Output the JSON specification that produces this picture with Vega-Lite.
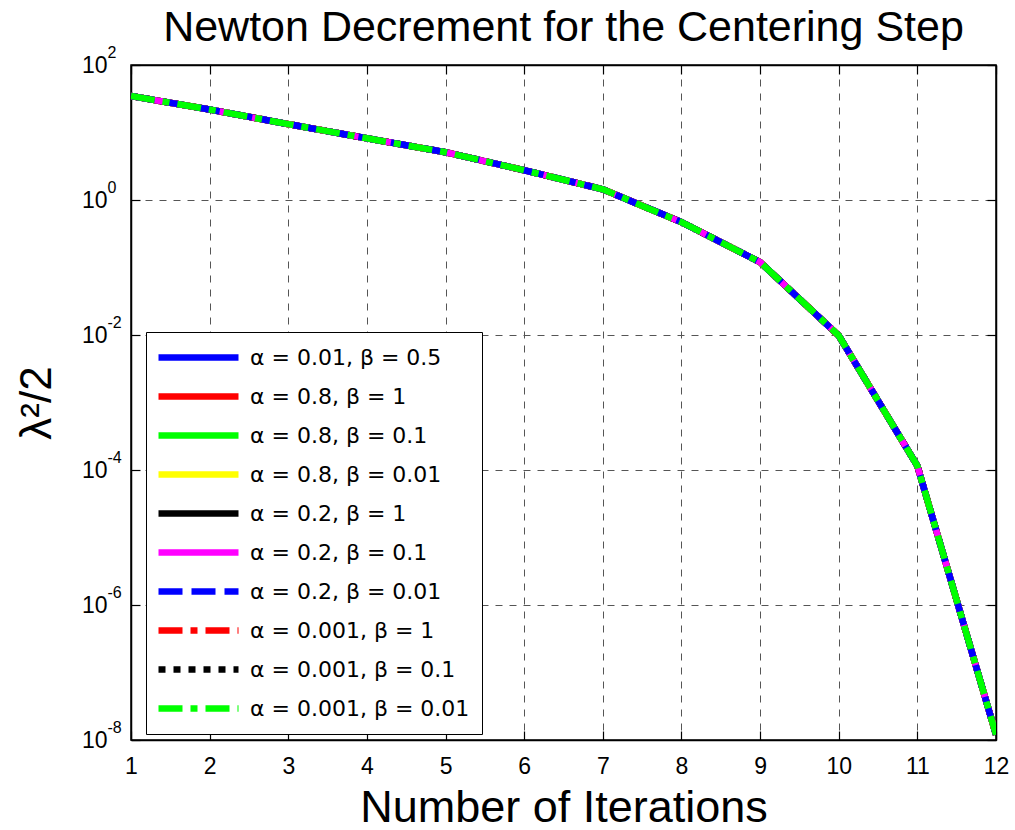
{
  "$schema": "https://vega.github.io/schema/vega-lite/v6.json",
  "width": 865,
  "height": 675,
  "autosize": {"type": "none"},
  "padding": {"left": 131, "top": 65, "right": 19, "bottom": 90},
  "background": "white",
  "title": {"text": "Newton Decrement for the Centering Step", "fontSize": 43, "font": "Liberation Sans", "fontWeight": "normal", "anchor": "middle", "offset": -6, "color": "black"},
  "config": {"view": {"stroke": "black", "strokeWidth": 1.5}},
  "datasets": {
    "d": [
      {"s": "α = 0.01, β = 0.5", "k": 1, "v": 34.7}, {"s": "α = 0.01, β = 0.5", "k": 2, "v": 21.9}, {"s": "α = 0.01, β = 0.5", "k": 3, "v": 13.3}, {"s": "α = 0.01, β = 0.5", "k": 4, "v": 8.2}, {"s": "α = 0.01, β = 0.5", "k": 5, "v": 5.1}, {"s": "α = 0.01, β = 0.5", "k": 6, "v": 2.76}, {"s": "α = 0.01, β = 0.5", "k": 7, "v": 1.44}, {"s": "α = 0.01, β = 0.5", "k": 8, "v": 0.47}, {"s": "α = 0.01, β = 0.5", "k": 9, "v": 0.12}, {"s": "α = 0.01, β = 0.5", "k": 10, "v": 0.0098}, {"s": "α = 0.01, β = 0.5", "k": 11, "v": 0.000115}, {"s": "α = 0.01, β = 0.5", "k": 12, "v": 1.2e-8},
      {"s": "α = 0.8, β = 1", "k": 1, "v": 34.7}, {"s": "α = 0.8, β = 1", "k": 2, "v": 21.9}, {"s": "α = 0.8, β = 1", "k": 3, "v": 13.3}, {"s": "α = 0.8, β = 1", "k": 4, "v": 8.2}, {"s": "α = 0.8, β = 1", "k": 5, "v": 5.1}, {"s": "α = 0.8, β = 1", "k": 6, "v": 2.76}, {"s": "α = 0.8, β = 1", "k": 7, "v": 1.44}, {"s": "α = 0.8, β = 1", "k": 8, "v": 0.47}, {"s": "α = 0.8, β = 1", "k": 9, "v": 0.12}, {"s": "α = 0.8, β = 1", "k": 10, "v": 0.0098}, {"s": "α = 0.8, β = 1", "k": 11, "v": 0.000115}, {"s": "α = 0.8, β = 1", "k": 12, "v": 1.2e-8},
      {"s": "α = 0.8, β = 0.1", "k": 1, "v": 34.7}, {"s": "α = 0.8, β = 0.1", "k": 2, "v": 21.9}, {"s": "α = 0.8, β = 0.1", "k": 3, "v": 13.3}, {"s": "α = 0.8, β = 0.1", "k": 4, "v": 8.2}, {"s": "α = 0.8, β = 0.1", "k": 5, "v": 5.1}, {"s": "α = 0.8, β = 0.1", "k": 6, "v": 2.76}, {"s": "α = 0.8, β = 0.1", "k": 7, "v": 1.44}, {"s": "α = 0.8, β = 0.1", "k": 8, "v": 0.47}, {"s": "α = 0.8, β = 0.1", "k": 9, "v": 0.12}, {"s": "α = 0.8, β = 0.1", "k": 10, "v": 0.0098}, {"s": "α = 0.8, β = 0.1", "k": 11, "v": 0.000115}, {"s": "α = 0.8, β = 0.1", "k": 12, "v": 1.2e-8},
      {"s": "α = 0.8, β = 0.01", "k": 1, "v": 34.7}, {"s": "α = 0.8, β = 0.01", "k": 2, "v": 21.9}, {"s": "α = 0.8, β = 0.01", "k": 3, "v": 13.3}, {"s": "α = 0.8, β = 0.01", "k": 4, "v": 8.2}, {"s": "α = 0.8, β = 0.01", "k": 5, "v": 5.1}, {"s": "α = 0.8, β = 0.01", "k": 6, "v": 2.76}, {"s": "α = 0.8, β = 0.01", "k": 7, "v": 1.44}, {"s": "α = 0.8, β = 0.01", "k": 8, "v": 0.47}, {"s": "α = 0.8, β = 0.01", "k": 9, "v": 0.12}, {"s": "α = 0.8, β = 0.01", "k": 10, "v": 0.0098}, {"s": "α = 0.8, β = 0.01", "k": 11, "v": 0.000115}, {"s": "α = 0.8, β = 0.01", "k": 12, "v": 1.2e-8},
      {"s": "α = 0.2, β = 1", "k": 1, "v": 34.7}, {"s": "α = 0.2, β = 1", "k": 2, "v": 21.9}, {"s": "α = 0.2, β = 1", "k": 3, "v": 13.3}, {"s": "α = 0.2, β = 1", "k": 4, "v": 8.2}, {"s": "α = 0.2, β = 1", "k": 5, "v": 5.1}, {"s": "α = 0.2, β = 1", "k": 6, "v": 2.76}, {"s": "α = 0.2, β = 1", "k": 7, "v": 1.44}, {"s": "α = 0.2, β = 1", "k": 8, "v": 0.47}, {"s": "α = 0.2, β = 1", "k": 9, "v": 0.12}, {"s": "α = 0.2, β = 1", "k": 10, "v": 0.0098}, {"s": "α = 0.2, β = 1", "k": 11, "v": 0.000115}, {"s": "α = 0.2, β = 1", "k": 12, "v": 1.2e-8},
      {"s": "α = 0.001, β = 1", "k": 1, "v": 34.7}, {"s": "α = 0.001, β = 1", "k": 2, "v": 21.9}, {"s": "α = 0.001, β = 1", "k": 3, "v": 13.3}, {"s": "α = 0.001, β = 1", "k": 4, "v": 8.2}, {"s": "α = 0.001, β = 1", "k": 5, "v": 5.1}, {"s": "α = 0.001, β = 1", "k": 6, "v": 2.76}, {"s": "α = 0.001, β = 1", "k": 7, "v": 1.44}, {"s": "α = 0.001, β = 1", "k": 8, "v": 0.47}, {"s": "α = 0.001, β = 1", "k": 9, "v": 0.12}, {"s": "α = 0.001, β = 1", "k": 10, "v": 0.0098}, {"s": "α = 0.001, β = 1", "k": 11, "v": 0.000115}, {"s": "α = 0.001, β = 1", "k": 12, "v": 1.2e-8},
      {"s": "α = 0.001, β = 0.1", "k": 1, "v": 34.7}, {"s": "α = 0.001, β = 0.1", "k": 2, "v": 21.9}, {"s": "α = 0.001, β = 0.1", "k": 3, "v": 13.3}, {"s": "α = 0.001, β = 0.1", "k": 4, "v": 8.2}, {"s": "α = 0.001, β = 0.1", "k": 5, "v": 5.1}, {"s": "α = 0.001, β = 0.1", "k": 6, "v": 2.76}, {"s": "α = 0.001, β = 0.1", "k": 7, "v": 1.44}, {"s": "α = 0.001, β = 0.1", "k": 8, "v": 0.47}, {"s": "α = 0.001, β = 0.1", "k": 9, "v": 0.12}, {"s": "α = 0.001, β = 0.1", "k": 10, "v": 0.0098}, {"s": "α = 0.001, β = 0.1", "k": 11, "v": 0.000115}, {"s": "α = 0.001, β = 0.1", "k": 12, "v": 1.2e-8},
      {"s": "α = 0.2, β = 0.1", "k": 1, "v": 34.7}, {"s": "α = 0.2, β = 0.1", "k": 2, "v": 21.9}, {"s": "α = 0.2, β = 0.1", "k": 3, "v": 13.3}, {"s": "α = 0.2, β = 0.1", "k": 4, "v": 8.2}, {"s": "α = 0.2, β = 0.1", "k": 5, "v": 5.1}, {"s": "α = 0.2, β = 0.1", "k": 6, "v": 2.76}, {"s": "α = 0.2, β = 0.1", "k": 7, "v": 1.44}, {"s": "α = 0.2, β = 0.1", "k": 8, "v": 0.47}, {"s": "α = 0.2, β = 0.1", "k": 9, "v": 0.12}, {"s": "α = 0.2, β = 0.1", "k": 10, "v": 0.0098}, {"s": "α = 0.2, β = 0.1", "k": 11, "v": 0.000115}, {"s": "α = 0.2, β = 0.1", "k": 12, "v": 1.2e-8},
      {"s": "α = 0.2, β = 0.01", "k": 1, "v": 34.7}, {"s": "α = 0.2, β = 0.01", "k": 2, "v": 21.9}, {"s": "α = 0.2, β = 0.01", "k": 3, "v": 13.3}, {"s": "α = 0.2, β = 0.01", "k": 4, "v": 8.2}, {"s": "α = 0.2, β = 0.01", "k": 5, "v": 5.1}, {"s": "α = 0.2, β = 0.01", "k": 6, "v": 2.76}, {"s": "α = 0.2, β = 0.01", "k": 7, "v": 1.44}, {"s": "α = 0.2, β = 0.01", "k": 8, "v": 0.47}, {"s": "α = 0.2, β = 0.01", "k": 9, "v": 0.12}, {"s": "α = 0.2, β = 0.01", "k": 10, "v": 0.0098}, {"s": "α = 0.2, β = 0.01", "k": 11, "v": 0.000115}, {"s": "α = 0.2, β = 0.01", "k": 12, "v": 1.2e-8},
      {"s": "α = 0.001, β = 0.01", "k": 1, "v": 34.7}, {"s": "α = 0.001, β = 0.01", "k": 2, "v": 21.9}, {"s": "α = 0.001, β = 0.01", "k": 3, "v": 13.3}, {"s": "α = 0.001, β = 0.01", "k": 4, "v": 8.2}, {"s": "α = 0.001, β = 0.01", "k": 5, "v": 5.1}, {"s": "α = 0.001, β = 0.01", "k": 6, "v": 2.76}, {"s": "α = 0.001, β = 0.01", "k": 7, "v": 1.44}, {"s": "α = 0.001, β = 0.01", "k": 8, "v": 0.47}, {"s": "α = 0.001, β = 0.01", "k": 9, "v": 0.12}, {"s": "α = 0.001, β = 0.01", "k": 10, "v": 0.0098}, {"s": "α = 0.001, β = 0.01", "k": 11, "v": 0.000115}, {"s": "α = 0.001, β = 0.01", "k": 12, "v": 1.2e-8}
    ]
  },
  "data": {"name": "d"},
  "layer": [
    {
      "mark": {"type": "line", "strokeWidth": 6.5, "strokeCap": "butt", "strokeJoin": "miter", "clip": true},
      "encoding": {
        "x": {
          "field": "k", "type": "quantitative",
          "scale": {"domain": [1, 12], "nice": false, "zero": false},
          "axis": {"orient": "bottom", "values": [1,2,3,4,5,6,7,8,9,10,11,12], "format": "d", "title": "Number of Iterations",
            "titleFont": "Liberation Sans", "titleFontSize": 45, "titleFontWeight": "normal", "titleColor": "black", "titlePadding": 7,
            "labelFont": "Liberation Sans", "labelFontSize": 23, "labelColor": "black", "labelPadding": 15, "labelFlush": false, "labelOverlap": false,
            "ticks": false, "domainColor": "black", "domainWidth": 1.5,
            "grid": true, "gridColor": "#555555", "gridDash": [7, 7], "gridWidth": 1}
        },
        "y": {
          "field": "v", "type": "quantitative",
          "scale": {"type": "log", "domain": [1e-8, 100], "nice": false},
          "axis": {"orient": "left", "values": [1e-8, 1e-6, 1e-4, 1e-2, 1, 100], "title": "λ²/2",
            "labelExpr": "'10'",
            "titleFont": "Liberation Sans", "titleFontSize": 44, "titleFontWeight": "normal", "titleColor": "black", "titlePadding": 22,
            "labelFont": "Liberation Sans", "labelFontSize": 23, "labelColor": "black", "labelPadding": 24, "labelFlush": false, "labelOverlap": false,
            "ticks": false, "domainColor": "black", "domainWidth": 1.5,
            "grid": true, "gridColor": "#555555", "gridDash": [7, 7], "gridWidth": 1}
        },
        "color": {
          "field": "s", "type": "nominal",
          "scale": {
            "domain": ["α = 0.01, β = 0.5", "α = 0.8, β = 1", "α = 0.8, β = 0.1", "α = 0.8, β = 0.01", "α = 0.2, β = 1", "α = 0.2, β = 0.1", "α = 0.2, β = 0.01", "α = 0.001, β = 1", "α = 0.001, β = 0.1", "α = 0.001, β = 0.01"],
            "range": ["#0000ff", "#ff0000", "#00ff00", "#ffff00", "#000000", "#ff00ff", "#0000ff", "#ff0000", "#000000", "#00ff00"]
          },
          "legend": {"orient": "none", "legendX": 15, "legendY": 267, "title": null, "symbolType": "M-4,0L4,0", "symbolSize": 400, "symbolStrokeWidth": 6.5, "symbolOffset": 27,
            "labelFont": "DejaVu Sans", "labelFontSize": 22, "labelColor": "black", "labelOffset": 38, "labelLimit": 400,
            "strokeColor": "black", "fillColor": "white", "padding": 12, "rowPadding": 12}
        },
        "strokeDash": {
          "field": "s", "type": "nominal",
          "scale": {
            "domain": ["α = 0.01, β = 0.5", "α = 0.8, β = 1", "α = 0.8, β = 0.1", "α = 0.8, β = 0.01", "α = 0.2, β = 1", "α = 0.2, β = 0.1", "α = 0.2, β = 0.01", "α = 0.001, β = 1", "α = 0.001, β = 0.1", "α = 0.001, β = 0.01"],
            "range": [[1, 0], [1, 0], [1, 0], [1, 0], [1, 0], [1, 0], [24, 9], [24, 8, 7, 8], [7, 8], [24, 8, 7, 8]]
          },
          "legend": {"orient": "none", "legendX": 15, "legendY": 267, "title": null, "symbolType": "M-4,0L4,0", "symbolSize": 400, "symbolStrokeWidth": 6.5, "symbolOffset": 27,
            "labelFont": "DejaVu Sans", "labelFontSize": 22, "labelColor": "black", "labelOffset": 38, "labelLimit": 400,
            "strokeColor": "black", "fillColor": "white", "padding": 12, "rowPadding": 12}
        }
      }
    },
    {
      "mark": {"type": "line", "opacity": 0},
      "encoding": {
        "x": {"field": "k", "type": "quantitative",
          "axis": {"orient": "top", "values": [1,2,3,4,5,6,7,8,9,10,11,12], "labels": false, "title": null, "grid": false, "tickSize": -9, "tickColor": "black", "tickWidth": 1.2, "domainColor": "black", "domainWidth": 1.5}},
        "y": {"field": "v", "type": "quantitative",
          "axis": {"orient": "right", "values": [1e-8, 1e-6, 1e-4, 1e-2, 1, 100], "labels": false, "title": null, "grid": false, "tickSize": -9, "tickColor": "black", "tickWidth": 1.2, "domainColor": "black", "domainWidth": 1.5}}
      }
    },
    {
      "mark": {"type": "line", "opacity": 0},
      "encoding": {
        "x": {"field": "k", "type": "quantitative",
          "axis": {"orient": "bottom", "values": [1,2,3,4,5,6,7,8,9,10,11,12], "labels": false, "title": null, "grid": false, "domain": false, "tickSize": -9, "tickColor": "black", "tickWidth": 1.2}},
        "y": {"field": "v", "type": "quantitative",
          "axis": {"orient": "left", "values": [1e-8, 1e-6, 1e-4, 1e-2, 1, 100], "labels": false, "title": null, "grid": false, "domain": false, "tickSize": -9, "tickColor": "black", "tickWidth": 1.2}}
      }
    },
    {
      "mark": {"type": "line", "opacity": 0},
      "encoding": {
        "x": {"field": "k", "type": "quantitative", "axis": null},
        "y": {"field": "v", "type": "quantitative",
          "axis": {"orient": "left", "values": [1e-8, 1e-6, 1e-4, 1e-2, 1, 100], "title": null, "grid": false, "domain": false, "ticks": false,
            "labelExpr": "datum.value >= 50 ? '2' : datum.value >= 0.5 ? '0' : datum.value >= 0.005 ? '-2' : datum.value >= 0.00005 ? '-4' : datum.value >= 0.0000005 ? '-6' : '-8'",
            "labelFont": "Liberation Sans", "labelFontSize": 16, "labelColor": "black", "labelAlign": "left", "labelBaseline": "alphabetic", "labelOffset": -8, "labelPadding": 24, "labelFlush": false, "labelOverlap": false}}
      }
    }
  ],
  "resolve": {"axis": {"x": "independent", "y": "independent"}}
}
